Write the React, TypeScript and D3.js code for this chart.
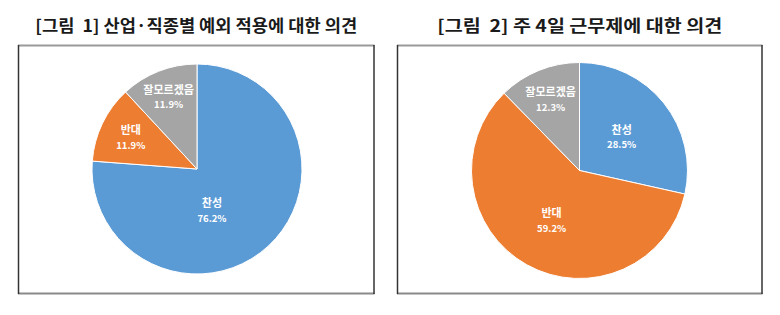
import React from "react";
import * as d3 from "d3";

const categories = ["찬성", "반대", "잘모르겠음"];
const chart1Values = [76.2, 11.9, 11.9];
const chart2Values = [28.5, 59.2, 12.3];
const titles = ["[그림  1] 산업·직종별 예외 적용에 대한 의견", "[그림  2] 주 4일 근무제에 대한 의견"];
const colors = ["#5B9BD5", "#ED7D31", "#A5A5A5"];

const W = 780;
const H = 315;

type PanelCfg = {
  values: number[];
  title: string;
  box: [number, number, number, number];
  cx: number;
  cy: number;
  r: number;
  titleW: number;
  labelFrac: number[];
  labelShift: number[];
};

const panels: PanelCfg[] = [
  {
    values: chart1Values,
    title: titles[0],
    box: [18, 45, 374.5, 294],
    cx: 197,
    cy: 169,
    r: 105,
    titleW: 322,
    labelFrac: [0.42, 0.7, 0.74],
    labelShift: [23, 0, 0],
  },
  {
    values: chart2Values,
    title: titles[1],
    box: [397, 45, 762.5, 294],
    cx: 579.5,
    cy: 170.5,
    r: 108,
    titleW: 285,
    labelFrac: [0.5, 0.53, 0.71],
    labelShift: [0, 0, 0],
  },
];

const font = "'Malgun Gothic', 'Noto Sans CJK KR', 'Noto Sans', sans-serif";

function Panel({ p }: { p: PanelCfg }) {
  const pie = d3
    .pie<number>()
    .sort(null)
    .value((d) => d);
  const arcs = pie(p.values);
  const arc = d3.arc<d3.PieArcDatum<number>>().innerRadius(0).outerRadius(p.r);
  const [x0, y0, x1, y1] = p.box;
  const midX = (x0 + x1) / 2;
  return (
    <g>
      <text
        x={midX}
        y={32}
        textAnchor="middle"
        fontFamily={font}
        fontWeight="bold"
        fontSize={16.5}
        fill="#1a1a1a"
        textLength={p.titleW}
        lengthAdjust="spacingAndGlyphs"
        style={{ whiteSpace: "pre" }}
      >
        {p.title}
      </text>
      <rect x={x0} y={y0} width={x1 - x0} height={y1 - y0} fill="#ffffff" />
      <line x1={x0} y1={y0 + 0.5} x2={x1} y2={y0 + 0.5} stroke="#9a9a9a" strokeWidth={2} />
      <line x1={x0} y1={y1 - 0.5} x2={x1} y2={y1 - 0.5} stroke="#8a8a8a" strokeWidth={2} />
      <line x1={x0 + 0.5} y1={y0} x2={x0 + 0.5} y2={y1} stroke="#333333" strokeWidth={1.5} />
      <line x1={x1 - 0.5} y1={y0} x2={x1 - 0.5} y2={y1} stroke="#333333" strokeWidth={1.5} />
      <g transform={`translate(${p.cx},${p.cy})`}>
        {arcs.map((a, i) => (
          <path key={i} d={arc(a) || ""} fill={colors[i]} stroke="#ffffff" strokeWidth={1} />
        ))}
        {arcs.map((a, i) => {
          const mid = (a.startAngle + a.endAngle) / 2 + (p.labelShift[i] * Math.PI) / 180;
          const rr = p.r * p.labelFrac[i];
          const lx = Math.sin(mid) * rr;
          const ly = -Math.cos(mid) * rr;
          return (
            <g key={"l" + i} fontFamily={font} fontWeight="bold" fill="#ffffff" textAnchor="middle">
              <text x={lx} y={ly - 3} fontSize={11}>
                {categories[i]}
              </text>
              <text x={lx} y={ly + 11.5} fontSize={9.5}>
                {d3.format(".1f")(p.values[i])}%
              </text>
            </g>
          );
        })}
      </g>
    </g>
  );
}

export default function App() {
  return (
    <div style={{ position: "absolute", left: 0, top: 0 }}>
      <svg width={W} height={H} style={{ display: "block" }}>
        <rect x={0} y={0} width={W} height={H} fill="#ffffff" />
        {panels.map((p, i) => (
          <Panel key={i} p={p} />
        ))}
      </svg>
    </div>
  );
}
